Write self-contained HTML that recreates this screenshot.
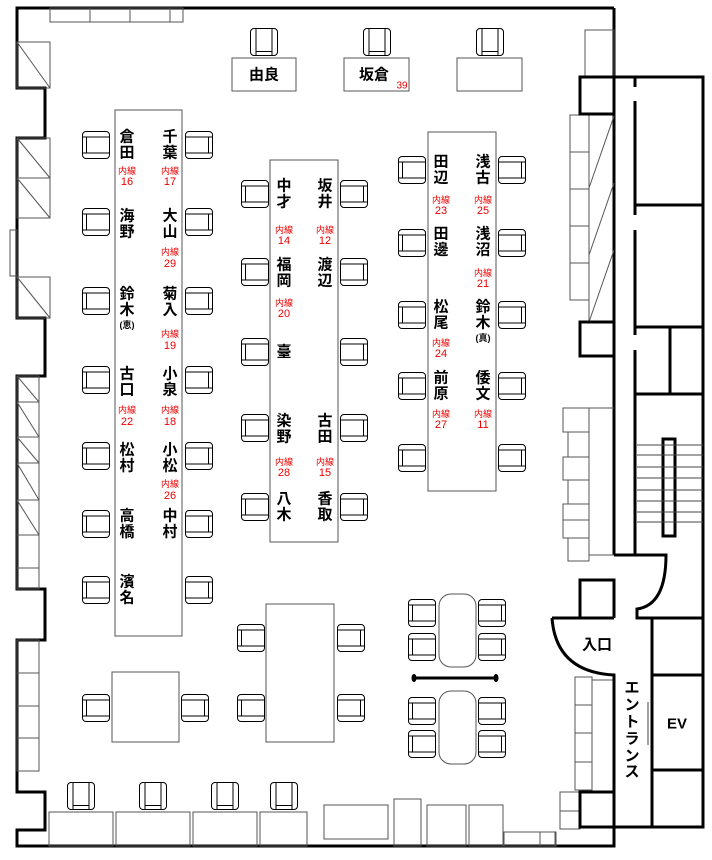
<!DOCTYPE html>
<html><head><meta charset="utf-8"><style>
html,body{margin:0;padding:0;background:#fff}
svg{display:block}
.n{font-family:"Liberation Sans","Noto Sans CJK JP",sans-serif;font-size:15px;font-weight:bold;fill:#000;text-anchor:middle;dominant-baseline:central}
.r{font-family:"Liberation Sans","Noto Sans CJK JP",sans-serif;fill:#e00;text-anchor:middle;dominant-baseline:central}
.s{font-family:"Liberation Sans","Noto Sans CJK JP",sans-serif;font-size:9px;font-weight:bold;text-anchor:middle;dominant-baseline:central}
.g{fill:none;stroke:#555;stroke-width:1}
.k{fill:none;stroke:#000;stroke-width:1}
.w{fill:none;stroke:#000;stroke-width:3}
</style></head><body>
<svg width="712" height="860" viewBox="0 0 712 860" xmlns="http://www.w3.org/2000/svg">
<defs>
<symbol id="ch" viewBox="0 0 28 28" width="28" height="28" overflow="visible">
<rect x="0.5" y="0.5" width="27" height="27" rx="3.5" fill="#fff" stroke="#000" stroke-width="1"/>
<line x1="0.5" y1="6" x2="27.5" y2="6" stroke="#000"/>
<line x1="0.5" y1="22" x2="27.5" y2="22" stroke="#000"/>
<line x1="4.5" y1="6" x2="4.5" y2="22" stroke="#000"/>
</symbol>
</defs>

<!-- outer walls -->
<polyline class="w" points="614,8 17,8 17,88 45,88 45,138 17,138 17,318 45,318 45,376 17,376 17,589 45,589 45,640 17,640 17,792 45,792 45,830 17,830 17,846 614,846 614,792"/>
<line class="w" x1="614" y1="8" x2="614" y2="555"/>

<!-- top wall items -->
<rect class="g" x="50" y="8" width="133" height="14"/>
<line class="g" x1="90" y1="8" x2="90" y2="22"/><line class="g" x1="130" y1="8" x2="130" y2="22"/><line class="g" x1="170" y1="8" x2="170" y2="22"/>

<!-- left wall windows -->
<g class="g">
<rect x="17" y="42" width="33" height="46"/><line x1="17" y1="42" x2="50" y2="88"/>
<rect x="17" y="138" width="33" height="40"/><line x1="17" y1="138" x2="50" y2="178"/>
<rect x="17" y="178" width="33" height="40"/><line x1="17" y1="178" x2="50" y2="218"/>
<rect x="10" y="230" width="7" height="46"/>
<rect x="17" y="277" width="33" height="41"/><line x1="17" y1="277" x2="50" y2="318"/>
<rect x="17" y="376" width="22" height="26"/><line x1="17" y1="376" x2="39" y2="402"/>
<rect x="17" y="402" width="22" height="35"/><line x1="17" y1="402" x2="39" y2="437"/>
<rect x="17" y="437" width="22" height="26"/><line x1="17" y1="437" x2="39" y2="463"/>
<rect x="17" y="463" width="22" height="37"/><line x1="17" y1="463" x2="39" y2="500"/>
<rect x="17" y="500" width="22" height="35"/><line x1="17" y1="500" x2="39" y2="535"/>
<rect x="17" y="535" width="22" height="33"/>
<rect x="17" y="568" width="22" height="21"/>
<rect x="17" y="640" width="22" height="33"/><rect x="17" y="673" width="22" height="33"/>
<rect x="17" y="706" width="22" height="32"/><rect x="17" y="738" width="22" height="33"/>
</g>

<!-- top desks -->
<rect class="g" x="232" y="58" width="64" height="33"/>
<rect class="g" x="344" y="58" width="65" height="33"/>
<rect class="g" x="457" y="58" width="65" height="33"/>
<g transform="translate(250,56) rotate(-90)"><use href="#ch"/></g>
<g transform="translate(363,56) rotate(-90)"><use href="#ch"/></g>
<g transform="translate(476,56) rotate(-90)"><use href="#ch"/></g>
<text class="n" x="264" y="75">由良</text>
<text class="n" x="374" y="75">坂倉</text>
<text class="r" x="402" y="86" font-size="10">39</text>

<!-- left table -->
<rect class="g" x="115" y="110" width="67" height="526"/>
<g id="lc">
<use href="#ch" x="82" y="131"/><use href="#ch" x="82" y="208"/><use href="#ch" x="82" y="287"/><use href="#ch" x="82" y="366"/><use href="#ch" x="82" y="442"/><use href="#ch" x="82" y="510"/><use href="#ch" x="82" y="576"/>
</g>
<g transform="translate(295,0) scale(-1,1)">
<use href="#ch" x="82" y="131"/><use href="#ch" x="82" y="208"/><use href="#ch" x="82" y="287"/><use href="#ch" x="82" y="366"/><use href="#ch" x="82" y="442"/><use href="#ch" x="82" y="510"/><use href="#ch" x="82" y="576"/>
</g>
<!-- left table names col1 x127 -->
<text class="n" x="127" y="137">倉</text><text class="n" x="127" y="153">田</text>
<text class="r" x="127" y="171" font-size="9">内線</text><text class="r" x="127" y="182" font-size="11">16</text>
<text class="n" x="127" y="216">海</text><text class="n" x="127" y="232">野</text>
<text class="n" x="127" y="294">鈴</text><text class="n" x="127" y="310">木</text>
<text class="s" x="127" y="325">(恵)</text>
<text class="n" x="127" y="374">古</text><text class="n" x="127" y="390">口</text>
<text class="r" x="127" y="410" font-size="9">内線</text><text class="r" x="127" y="422" font-size="11">22</text>
<text class="n" x="127" y="450">松</text><text class="n" x="127" y="466">村</text>
<text class="n" x="127" y="516">高</text><text class="n" x="127" y="532">橋</text>
<text class="n" x="127" y="582">濱</text><text class="n" x="127" y="598">名</text>
<!-- col2 x170 -->
<text class="n" x="170" y="137">千</text><text class="n" x="170" y="153">葉</text>
<text class="r" x="170" y="171" font-size="9">内線</text><text class="r" x="170" y="182" font-size="11">17</text>
<text class="n" x="170" y="216">大</text><text class="n" x="170" y="232">山</text>
<text class="r" x="170" y="252" font-size="9">内線</text><text class="r" x="170" y="264" font-size="11">29</text>
<text class="n" x="170" y="294">菊</text><text class="n" x="170" y="310">入</text>
<text class="r" x="170" y="334" font-size="9">内線</text><text class="r" x="170" y="346" font-size="11">19</text>
<text class="n" x="170" y="374">小</text><text class="n" x="170" y="390">泉</text>
<text class="r" x="170" y="410" font-size="9">内線</text><text class="r" x="170" y="422" font-size="11">18</text>
<text class="n" x="170" y="450">小</text><text class="n" x="170" y="466">松</text>
<text class="r" x="170" y="484" font-size="9">内線</text><text class="r" x="170" y="496" font-size="11">26</text>
<text class="n" x="170" y="516">中</text><text class="n" x="170" y="532">村</text>

<!-- middle table -->
<rect class="g" x="270" y="160" width="68" height="382"/>
<use href="#ch" x="241" y="180"/><use href="#ch" x="241" y="258"/><use href="#ch" x="241" y="338"/><use href="#ch" x="241" y="414"/><use href="#ch" x="241" y="493"/>
<g transform="translate(709,0) scale(-1,1)">
<use href="#ch" x="341" y="180"/><use href="#ch" x="341" y="258"/><use href="#ch" x="341" y="338"/><use href="#ch" x="341" y="414"/><use href="#ch" x="341" y="493"/>
</g>
<text class="n" x="284" y="186">中</text><text class="n" x="284" y="202">才</text>
<text class="r" x="284" y="230" font-size="9">内線</text><text class="r" x="284" y="241" font-size="11">14</text>
<text class="n" x="284" y="265">福</text><text class="n" x="284" y="281">岡</text>
<text class="r" x="284" y="303" font-size="9">内線</text><text class="r" x="284" y="314" font-size="11">20</text>
<text class="n" x="284" y="352">臺</text>
<text class="n" x="284" y="421">染</text><text class="n" x="284" y="437">野</text>
<text class="r" x="284" y="462" font-size="9">内線</text><text class="r" x="284" y="473" font-size="11">28</text>
<text class="n" x="284" y="499">八</text><text class="n" x="284" y="515">木</text>
<text class="n" x="325" y="186">坂</text><text class="n" x="325" y="202">井</text>
<text class="r" x="325" y="230" font-size="9">内線</text><text class="r" x="325" y="241" font-size="11">12</text>
<text class="n" x="325" y="265">渡</text><text class="n" x="325" y="281">辺</text>
<text class="n" x="325" y="421">古</text><text class="n" x="325" y="437">田</text>
<text class="r" x="325" y="462" font-size="9">内線</text><text class="r" x="325" y="473" font-size="11">15</text>
<text class="n" x="325" y="499">香</text><text class="n" x="325" y="515">取</text>

<!-- right table -->
<rect class="g" x="428" y="132" width="68" height="359"/>
<use href="#ch" x="398" y="156"/><use href="#ch" x="398" y="229"/><use href="#ch" x="398" y="301"/><use href="#ch" x="398" y="372"/><use href="#ch" x="398" y="444"/>
<g transform="translate(1025,0) scale(-1,1)">
<use href="#ch" x="499" y="156"/><use href="#ch" x="499" y="229"/><use href="#ch" x="499" y="301"/><use href="#ch" x="499" y="372"/><use href="#ch" x="499" y="444"/>
</g>
<text class="n" x="441" y="162">田</text><text class="n" x="441" y="178">辺</text>
<text class="r" x="441" y="200" font-size="9">内線</text><text class="r" x="441" y="211" font-size="11">23</text>
<text class="n" x="441" y="234">田</text><text class="n" x="441" y="250">邊</text>
<text class="n" x="441" y="307">松</text><text class="n" x="441" y="323">尾</text>
<text class="r" x="441" y="343" font-size="9">内線</text><text class="r" x="441" y="354" font-size="11">24</text>
<text class="n" x="441" y="378">前</text><text class="n" x="441" y="394">原</text>
<text class="r" x="441" y="414" font-size="9">内線</text><text class="r" x="441" y="425" font-size="11">27</text>
<text class="n" x="483" y="162">浅</text><text class="n" x="483" y="178">古</text>
<text class="r" x="483" y="200" font-size="9">内線</text><text class="r" x="483" y="211" font-size="11">25</text>
<text class="n" x="483" y="234">浅</text><text class="n" x="483" y="250">沼</text>
<text class="r" x="483" y="273" font-size="9">内線</text><text class="r" x="483" y="284" font-size="11">21</text>
<text class="n" x="483" y="307">鈴</text><text class="n" x="483" y="323">木</text>
<text class="s" x="483" y="338">(真)</text>
<text class="n" x="483" y="378">倭</text><text class="n" x="483" y="394">文</text>
<text class="r" x="483" y="414" font-size="9">内線</text><text class="r" x="483" y="425" font-size="11">11</text>

<!-- bottom middle table -->
<rect class="g" x="266" y="604" width="68" height="138"/>
<use href="#ch" x="237" y="624"/><use href="#ch" x="237" y="694"/>
<g transform="translate(702,0) scale(-1,1)"><use href="#ch" x="337" y="624"/><use href="#ch" x="337" y="694"/></g>
<!-- bottom-left table -->
<rect class="g" x="112" y="672" width="67" height="70"/>
<use href="#ch" x="82" y="694"/>
<g transform="translate(391,0) scale(-1,1)"><use href="#ch" x="182" y="694"/></g>

<!-- oval tables -->
<rect class="g" x="439" y="594" width="37" height="73" rx="12"/>
<rect class="g" x="439" y="691" width="37" height="73" rx="12"/>
<use href="#ch" x="408" y="599"/><use href="#ch" x="408" y="633"/><use href="#ch" x="408" y="697"/><use href="#ch" x="408" y="730"/>
<g transform="translate(986,0) scale(-1,1)"><use href="#ch" x="480" y="599"/><use href="#ch" x="480" y="633"/><use href="#ch" x="480" y="697"/><use href="#ch" x="480" y="730"/></g>
<line x1="414" y1="678" x2="496" y2="678" stroke="#000" stroke-width="3"/>
<ellipse cx="414" cy="678" rx="2.5" ry="4"/><ellipse cx="496" cy="678" rx="2.5" ry="4"/>

<!-- bottom desks -->
<g class="g">
<rect x="49" y="812" width="64" height="34"/><rect x="116" y="812" width="74" height="34"/>
<rect x="193" y="812" width="64" height="34"/><rect x="260" y="812" width="47" height="34"/>
<rect x="324" y="805" width="64" height="34"/><rect x="394" y="799" width="27" height="47"/>
<rect x="427" y="805" width="39" height="41"/><rect x="469" y="805" width="34" height="41"/>
<rect x="504" y="832" width="51" height="14"/>
<rect x="540" y="832" width="16" height="14"/>
<rect x="560" y="792" width="20" height="19"/><rect x="560" y="811" width="20" height="18"/>
</g>
<g transform="translate(67,810) rotate(-90)"><use href="#ch"/></g>
<g transform="translate(139,810) rotate(-90)"><use href="#ch"/></g>
<g transform="translate(211,810) rotate(-90)"><use href="#ch"/></g>
<g transform="translate(270,810) rotate(-90)"><use href="#ch"/></g>

<!-- right side shelves (upper) -->
<g class="g">
<rect x="585" y="30" width="29" height="47"/>
<rect x="570" y="115" width="19" height="37"/><rect x="570" y="152" width="19" height="37"/>
<rect x="570" y="189" width="19" height="37"/><rect x="570" y="226" width="19" height="37"/>
<rect x="570" y="263" width="19" height="37"/>
<line x1="589" y1="115" x2="589" y2="322"/>
<line x1="589" y1="188" x2="614" y2="116"/><line x1="589" y1="255" x2="614" y2="183"/><line x1="589" y1="322" x2="614" y2="250"/>
<!-- lower shelves -->
<rect x="563" y="408" width="26" height="24"/><rect x="568" y="432" width="21" height="25"/>
<rect x="563" y="457" width="26" height="23"/><rect x="568" y="480" width="21" height="24"/>
<rect x="563" y="504" width="26" height="16"/><rect x="563" y="520" width="26" height="18"/>
<rect x="568" y="538" width="21" height="23"/>
<line x1="589" y1="408" x2="614" y2="408"/><line x1="589" y1="408" x2="589" y2="555"/><line x1="589" y1="555" x2="614" y2="555"/>
<!-- below entrance -->
<rect x="575" y="677" width="17" height="28"/><rect x="575" y="705" width="17" height="28"/>
<rect x="575" y="733" width="17" height="29"/><rect x="575" y="762" width="17" height="28"/>
<line x1="592" y1="680" x2="614" y2="680"/>
</g>

<!-- annex (right) thick -->
<g class="w" stroke-width="2.5">
<rect x="580" y="77" width="34" height="37"/>
<rect x="580" y="322" width="34" height="34"/>
<polyline points="614,77 703,77 703,827 580,827"/>
<line x1="635" y1="78" x2="635" y2="87"/><line x1="635" y1="101" x2="635" y2="215"/>
<line x1="635" y1="230" x2="635" y2="335"/><line x1="635" y1="350" x2="635" y2="555"/>
<line x1="635" y1="205" x2="703" y2="205"/>
<line x1="635" y1="327" x2="703" y2="327"/>
<line x1="670" y1="327" x2="670" y2="394"/>
<line x1="635" y1="394" x2="703" y2="394"/>
<rect x="663" y="439" width="12" height="97"/>
<path d="M614,555 L666,555 Q666,605 637,609 L637,618 L703,618"/>
<polyline points="580,618 580,580 614,580 614,618"/>
<path d="M552,618 L614,618 M552,618 Q556,672 614,675 L614,792"/>
<line x1="652" y1="618" x2="652" y2="827"/>
<line x1="652" y1="675" x2="703" y2="675"/>
<line x1="652" y1="770" x2="703" y2="770"/>
<rect x="580" y="792" width="34" height="35"/>
</g>
<g stroke="#444" stroke-width="1">
<line x1="637" y1="445" x2="703" y2="445"/><line x1="637" y1="455" x2="703" y2="455"/>
<line x1="637" y1="467" x2="703" y2="467"/><line x1="637" y1="478" x2="703" y2="478"/>
<line x1="637" y1="490" x2="703" y2="490"/><line x1="637" y1="501" x2="703" y2="501"/>
<line x1="637" y1="512" x2="703" y2="512"/><line x1="637" y1="522" x2="703" y2="522"/>
<line x1="648" y1="702" x2="648" y2="745"/>
</g>
<text class="n" x="597" y="645">入口</text>
<text class="n" x="677" y="724" font-size="14">EV</text>
<g class="n" font-size="15">
<text x="632" y="688">エ</text><text x="632" y="705">ン</text><text x="632" y="722">ト</text>
<text x="632" y="739">ラ</text><text x="632" y="756">ン</text><text x="632" y="772">ス</text>
</g>
</svg>
</body></html>
